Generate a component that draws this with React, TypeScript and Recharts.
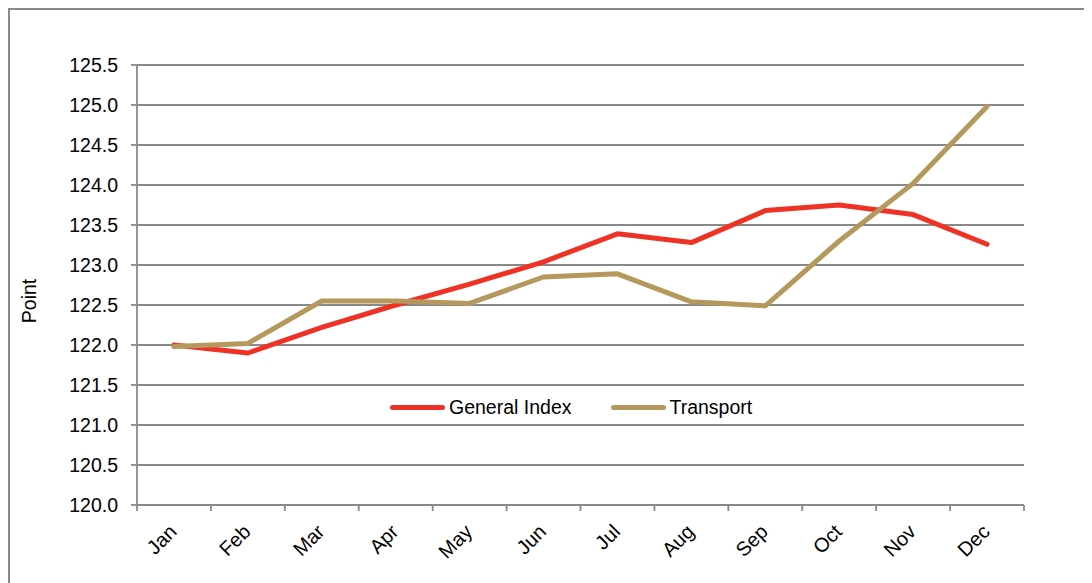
// CPI chart — General Index vs Transport, monthly points
import { CartesianGrid, Label, Legend, Line, LineChart, XAxis, YAxis } from 'recharts';

const months = ['Jan', 'Feb', 'Mar', 'Apr', 'May', 'Jun', 'Jul', 'Aug', 'Sep', 'Oct', 'Nov', 'Dec'];
const generalIndex = [122.0, 121.9, 122.22, 122.5, 122.76, 123.04, 123.39, 123.28, 123.68, 123.75, 123.63, 123.26];
const transport = [121.98, 122.02, 122.55, 122.55, 122.52, 122.85, 122.89, 122.54, 122.49, 123.3, 124.02, 124.98];
const yTicks = [120.0, 120.5, 121.0, 121.5, 122.0, 122.5, 123.0, 123.5, 124.0, 124.5, 125.0, 125.5];

const data = months.map((m, i) => ({ month: m, general: generalIndex[i], transport: transport[i] }));

const FONT = '"Liberation Sans", Arial, sans-serif';
const GRID = '#898989';
const W = 1084;
const H = 575;
const PLOT_W = 887;
const HALF_BAND = PLOT_W / 24;

// label at the category centre, tick marks on the category boundaries (Excel style)
function MonthTick({ x, y, payload, index }: any) {
  const last = index === months.length - 1;
  return (
    <g>
      <line x1={x - HALF_BAND} y1={y} x2={x - HALF_BAND} y2={y + 6} stroke={GRID} strokeWidth={1.8} />
      {last && <line x1={x + HALF_BAND} y1={y} x2={x + HALF_BAND} y2={y + 6} stroke={GRID} strokeWidth={1.8} />}
      <g transform={`translate(${x - 1},${y + 23})`}>
        <text
          textAnchor="end"
          transform="rotate(-45)"
          dy="0.35em"
          fontSize={20}
          fontFamily={FONT}
          fill="#000"
        >
          {payload.value}
        </text>
      </g>
    </g>
  );
}

function LegendBox({ payload }: any) {
  return (
    <div style={{ display: 'flex', alignItems: 'center', fontFamily: FONT, fontSize: 19.5, color: '#000' }}>
      {(payload ?? []).map((item: any) => (
        <div key={item.value} style={{ display: 'flex', alignItems: 'center', marginRight: 39 }}>
          <span
            style={{ display: 'inline-block', width: 55, height: 5, borderRadius: 3, background: item.color, marginRight: 4 }}
          />
          <span>{item.value}</span>
        </div>
      ))}
    </div>
  );
}

export default function App() {
  return (
    <div style={{ position: 'relative', width: W, height: H, fontFamily: FONT }}>
      <LineChart width={W} height={H} data={data} margin={{ top: 57, right: 68, bottom: 77, left: 39 }}>
        <CartesianGrid vertical={false} stroke={GRID} strokeWidth={1.8} />
        <XAxis
          dataKey="month"
          height={1}
          interval={0}
          padding={{ left: HALF_BAND, right: HALF_BAND }}
          tickLine={false}
          tickSize={0}
          tickMargin={0}
          stroke={GRID}
          strokeWidth={1.8}
          tick={MonthTick}
        />
        <YAxis
          width={90}
          domain={[120, 125.5]}
          ticks={yTicks}
          interval={0}
          tickFormatter={(v: number) => v.toFixed(1)}
          tickSize={6}
          tickMargin={13}
          stroke={GRID}
          strokeWidth={1.8}
          tick={{ fontSize: 19.5, fill: '#000', fontFamily: FONT }}
        >
          <Label
            content={() => (
              <text
                x={21}
                y={293}
                transform="rotate(-90 21 293)"
                textAnchor="middle"
                dominantBaseline="central"
                fontSize={19.5}
                fontFamily={FONT}
                fill="#000"
              >
                Point
              </text>
            )}
          />
        </YAxis>
        <Legend
          verticalAlign="middle"
          align="center"
          layout="horizontal"
          content={<LegendBox />}
          wrapperStyle={{ left: 382, top: 388, width: 'auto' }}
        />
        <Line
          type="linear"
          dataKey="general"
          name="General Index"
          stroke="#EF3226"
          strokeWidth={5}
          strokeLinecap="round"
          strokeLinejoin="round"
          dot={false}
          isAnimationActive={false}
        />
        <Line
          type="linear"
          dataKey="transport"
          name="Transport"
          stroke="#B5985C"
          strokeWidth={5}
          strokeLinecap="round"
          strokeLinejoin="round"
          dot={false}
          isAnimationActive={false}
        />
      </LineChart>
      <div
        style={{
          position: 'absolute',
          left: 0,
          top: 0,
          width: '100%',
          height: '100%',
          borderLeft: `2px solid ${GRID}`,
          borderTop: `2px solid ${GRID}`,
          boxSizing: 'border-box',
          pointerEvents: 'none',
        }}
      />
    </div>
  );
}
